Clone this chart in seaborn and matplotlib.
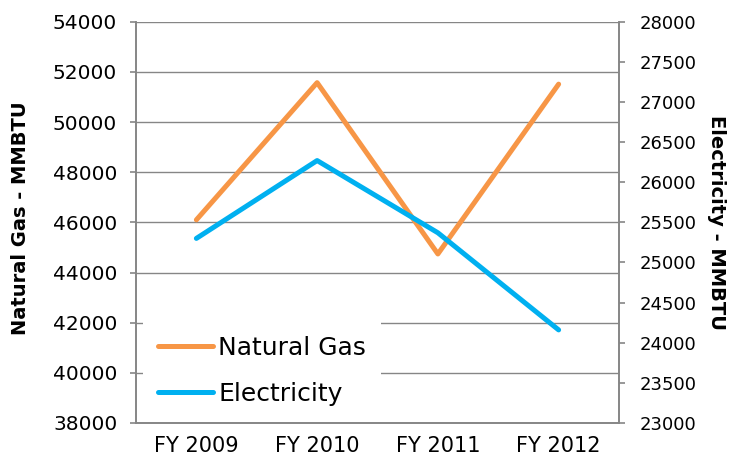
import numpy as np
import pandas as pd
import matplotlib
matplotlib.use("Agg")
import matplotlib.pyplot as plt
import seaborn as sns

sns.set_style("white")
plt.rcParams['font.family'] = ['DejaVu Sans']
plt.rcParams['text.color'] = 'black'
plt.rcParams['axes.labelcolor'] = 'black'

# data
years = ["FY 2009", "FY 2010", "FY 2011", "FY 2012"]
natural_gas = [46100, 51570, 44740, 51510]
electricity = [25300, 26270, 25370, 24160]

gas_color = "#F79646"
elec_color = "#00B0F0"
grey = "#868686"

df = pd.DataFrame({"pos": range(len(years)), "gas": natural_gas, "elec": electricity})

fig = plt.figure(figsize=(7.31, 4.63), dpi=100)
ax = fig.add_axes([136/731, 1 - 423/463, (619-136)/731, (423-21.7)/463])
ax2 = ax.twinx()

sns.lineplot(data=df, x="pos", y="gas", ax=ax, color=gas_color, linewidth=3.6,
             solid_capstyle="round", solid_joinstyle="round", label="Natural Gas", legend=False)
sns.lineplot(data=df, x="pos", y="elec", ax=ax2, color=elec_color, linewidth=3.6,
             solid_capstyle="round", solid_joinstyle="round", label="Electricity", legend=False)

# left axis
ax.set_ylim(38000, 54000)
ax.set_yticks(np.arange(38000, 54001, 2000))
ax.set_xlim(-0.5, len(years) - 0.5)
ax.set_xticks(np.arange(-0.5, len(years), 1.0))
ax.set_xticklabels([])
ax.set_xticks(range(len(years)), minor=True)
ax.set_xticklabels(years, minor=True, fontsize=15)
ax.tick_params(axis="x", which="minor", length=0, pad=9, labelcolor="black")
ax.tick_params(axis="x", which="major", direction="out", length=5, width=1.2, color=grey)
ax.tick_params(axis="y", direction="out", length=4.5, width=1.2, color=grey, labelsize=14.5,
               pad=9, labelcolor="black")
ax.set_xlabel("")
ax.set_ylabel("Natural Gas - MMBTU", fontsize=14, fontweight="bold")
ax.yaxis.set_label_coords(-0.219, 0.51)
ax.grid(axis="y", color=grey, linewidth=1.0)
ax.set_axisbelow(True)

# right axis
ax2.set_ylim(23000, 28000)
ax2.set_yticks(np.arange(23000, 28001, 500))
ax2.tick_params(axis="y", direction="out", length=4.5, width=1.2, color=grey, labelsize=13,
                pad=10, labelcolor="black")
ax2.set_ylabel("Electricity - MMBTU", fontsize=14, fontweight="bold", rotation=270)
ax2.yaxis.set_label_coords(1.222, 0.5)
ax2.grid(False)

for a in (ax, ax2):
    for side in ["left", "right", "bottom"]:
        a.spines[side].set_visible(True)
        a.spines[side].set_color(grey)
        a.spines[side].set_linewidth(1.2)
    a.spines["top"].set_visible(False)

h1, l1 = ax.get_legend_handles_labels()
h2, l2 = ax2.get_legend_handles_labels()
leg = ax2.legend(h1 + h2, l1 + l2, loc="lower left", bbox_to_anchor=(0.005, -0.008),
                 fontsize=18, frameon=True, facecolor="white", edgecolor="none",
                 framealpha=1, handlelength=2.2, handletextpad=0.2, labelspacing=0.9,
                 borderpad=0.6, borderaxespad=0.2, fancybox=False)

fig.savefig("out.png", dpi=100)
